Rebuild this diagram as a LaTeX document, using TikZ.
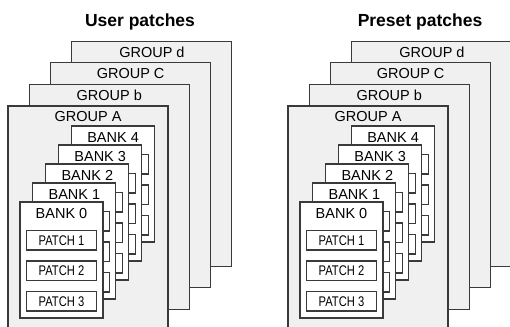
\documentclass[tikz,border=0pt]{standalone}
\usepackage{fontspec}
\setmainfont{Liberation Sans}
\newfontfamily\narrowfont[FakeStretch=0.8]{Liberation Sans}
\usetikzlibrary{positioning}
\definecolor{linegray}{HTML}{3A3A3A}
\definecolor{groupfill}{HTML}{F0F0F0}

% one column of groups, banks and patches: #1 = x shift, #2 = name prefix, #3 = title
\newcommand{\patchpanel}[3]{%
  \node[paneltitle] (#2title) at (#1+140,27) {#3};
  \foreach \i/\g in {3/d,2/C,1/b,0/A} {
    \node[groupbox] (#2g\g) at ({#1+8+21.3*\i},{106-21.6*\i}) {};
    \node[grouptext,below=5.5pt of #2g\g.north] (#2g\g text) {GROUP \g};
  }
  \foreach \i in {4,3,2,1,0} {
    \node[bankbox] (#2b\i) at ({#1+20+12.9*\i},{202-19*\i}) {};
    \node[banktext,below=6.5pt of #2b\i.north] (#2b\i text) {BANK \i};
    \foreach \j in {1,2,3}
      \node[patchbox] (#2b\i p\j) at ({#1+26.5+12.9*\i},{230.5-19*\i+30.5*(\j-1)}) {PATCH \j};
  }
}

\begin{document}
\begin{tikzpicture}
[x=1pt,y=-1pt,line width=1.1pt,%
  every node/.style={inner sep=0pt,outer sep=0pt},%
  groupbox/.style={draw=linegray,fill=groupfill,anchor=north west,minimum width=160pt,minimum height=225pt},%
  bankbox/.style={draw=linegray,fill=white,anchor=north west,minimum width=83pt,minimum height=116pt},%
  patchbox/.style={draw=linegray,fill=white,anchor=north west,minimum width=70pt,minimum height=19.5pt,%
    font=\narrowfont\fontsize{14}{16}\selectfont},%
  grouptext/.style={anchor=north,font=\fontsize{14.5}{17}\selectfont},%
  banktext/.style={anchor=north,font=\fontsize{14.5}{17}\selectfont},%
  paneltitle/.style={anchor=base,font=\bfseries\fontsize{17.5}{20}\selectfont}]
\path[use as bounding box,clip] (0,0) rectangle (510,326);
\patchpanel{0}{u}{User patches}
\patchpanel{280}{p}{Preset patches}
\end{tikzpicture}
\end{document}
